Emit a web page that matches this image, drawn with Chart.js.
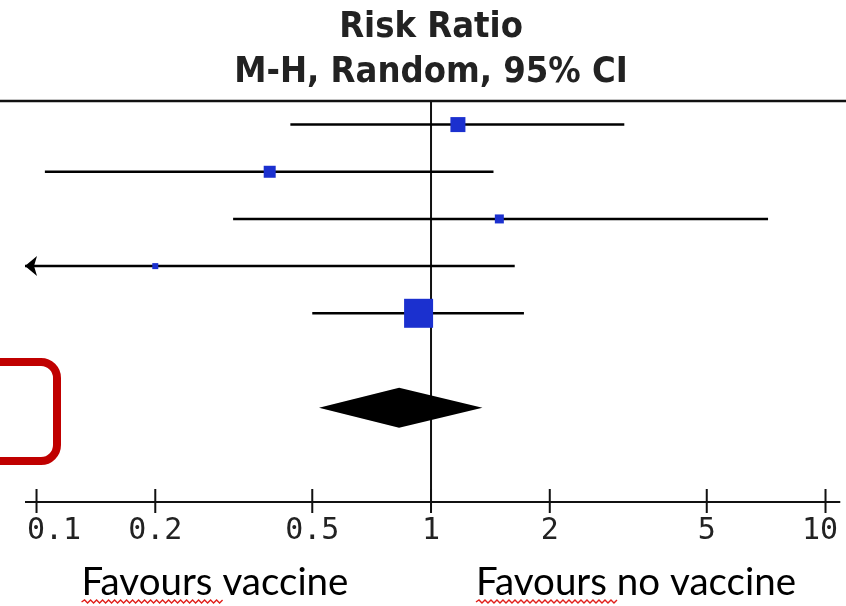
<!DOCTYPE html>
<html>
<head>
<meta charset="utf-8">
<script src="https://cdn.jsdelivr.net/npm/chart.js@4/dist/chart.umd.min.js"></script>
<style>
    html, body { margin: 0; padding: 0; background: #fff; }
    #forest { display: block; }
</style>
</head>
<body>
<canvas id="forest" width="846" height="606"></canvas>
<script>
// study rows (top to bottom) and their risk ratios with 95% CI
var studyRows = [1, 2, 3, 4, 5];
var riskRatio = [1.17, 0.39, 1.49, 0.20, 0.93];
var ciLower = [0.44, 0.105, 0.315, 0.05, 0.50];
var ciUpper = [3.09, 1.44, 7.15, 1.63, 1.72];

// pooled estimate (diamond): lower, estimate, upper
var pooledRow = 7;
var pooledRR = [0.52, 0.83, 1.35];

// axis
var tickValues = [0.1, 0.2, 0.5, 1, 2, 5, 10];
var tickLabels = ['0.1', '0.2', '0.5', '1', '2', '5', '10'];
var axisLow = 0.0935, axisHigh = 10.9;
var xMin = 0.0808, xMax = 11.27;

var titleLines = ['Risk Ratio', 'M-H, Random, 95% CI'];
var leftLabel = 'Favours vaccine';
var rightLabel = 'Favours no vaccine';

// marker side length in px (study weight)
var markerSide = [15, 12, 9, 6, 29];

var BLUE = '#1b30cf';

var datasets = [];
studyRows.forEach(function (row, i) {
    datasets.push({
        data: [{ x: Math.max(ciLower[i], axisLow), y: row }, { x: ciUpper[i], y: row }],
        showLine: true,
        borderColor: '#000',
        borderWidth: 2.5,
        pointRadius: 0,
        order: 2
    });
});
datasets.push({
    data: studyRows.map(function (row, i) { return { x: riskRatio[i], y: row }; }),
    pointStyle: 'rect',
    pointRadius: markerSide.map(function (s) { return s / Math.SQRT2; }),
    backgroundColor: BLUE,
    borderWidth: 0,
    order: 1
});

function wavy(ctx, x0, x1, y) {
    ctx.save();
    ctx.strokeStyle = '#e0201b';
    ctx.lineWidth = 1.4;
    ctx.beginPath();
    var up = true;
    ctx.moveTo(x0, y);
    for (var x = x0; x < x1; x += 3) {
        ctx.lineTo(x + 3, up ? y - 2 : y + 1);
        up = !up;
    }
    ctx.stroke();
    ctx.restore();
}

var forestDecor = {
    id: 'forestDecor',
    beforeDatasetsDraw: function (chart) {
        var ctx = chart.ctx, xs = chart.scales.x, ys = chart.scales.y;
        var topY = ys.getPixelForValue(0.5);
        var axisY = ys.getPixelForValue(9);
        var x1 = xs.getPixelForValue(1);
        ctx.save();
        ctx.strokeStyle = '#111';
        ctx.lineWidth = 2.5;
        ctx.beginPath();
        ctx.moveTo(0, topY); ctx.lineTo(chart.width, topY);
        ctx.stroke();
        ctx.lineWidth = 2;
        ctx.beginPath();
        ctx.moveTo(x1, topY); ctx.lineTo(x1, axisY);
        ctx.stroke();
        ctx.restore();
    },
    afterDatasetsDraw: function (chart) {
        var ctx = chart.ctx, xs = chart.scales.x, ys = chart.scales.y;
        var axisY = ys.getPixelForValue(9);
        ctx.save();

        // pooled diamond
        var dy = ys.getPixelForValue(pooledRow);
        ctx.fillStyle = '#000';
        ctx.beginPath();
        ctx.moveTo(xs.getPixelForValue(pooledRR[0]), dy);
        ctx.lineTo(xs.getPixelForValue(pooledRR[1]), dy - 20);
        ctx.lineTo(xs.getPixelForValue(pooledRR[2]), dy);
        ctx.lineTo(xs.getPixelForValue(pooledRR[1]), dy + 20);
        ctx.closePath();
        ctx.fill();

        // arrows for CIs beyond the axis
        studyRows.forEach(function (row, i) {
            if (ciLower[i] < axisLow) {
                var tx = xs.getPixelForValue(axisLow), ty = ys.getPixelForValue(row);
                ctx.beginPath();
                ctx.moveTo(tx, ty);
                ctx.lineTo(tx + 12, ty - 10);
                ctx.lineTo(tx + 9, ty);
                ctx.lineTo(tx + 12, ty + 10);
                ctx.closePath();
                ctx.fill();
            }
        });

        // x axis
        ctx.strokeStyle = '#111';
        ctx.lineWidth = 2;
        ctx.beginPath();
        ctx.moveTo(xs.getPixelForValue(axisLow), axisY);
        ctx.lineTo(xs.getPixelForValue(axisHigh), axisY);
        tickValues.forEach(function (v) {
            var tx = xs.getPixelForValue(v);
            ctx.moveTo(tx, axisY - 13);
            ctx.lineTo(tx, axisY + 11);
        });
        ctx.stroke();

        ctx.fillStyle = '#222';
        ctx.font = '30px "DejaVu Sans Mono"';
        ctx.textBaseline = 'middle';
        ctx.textAlign = 'left';
        tickValues.forEach(function (v, i) {
            var w = ctx.measureText(tickLabels[i]).width;
            var lx = xs.getPixelForValue(v) - w / 2;
            lx = Math.max(27, Math.min(lx, 838 - w));
            ctx.fillText(tickLabels[i], lx, axisY + 29);
        });

        // titles
        var cx = xs.getPixelForValue(1);
        ctx.fillStyle = '#222';
        ctx.textAlign = 'center';
        ctx.font = 'bold 36px "Liberation Sans Narrow", "DejaVu Sans Condensed", sans-serif';
        ctx.fillText(titleLines[0], cx, 28);
        ctx.fillText(titleLines[1], cx, 73);

        // favours labels
        ctx.fillStyle = '#000';
        ctx.textBaseline = 'alphabetic';
        ctx.font = '38.5px Lato, sans-serif';
        ctx.fillText(leftLabel, 215, 595);
        ctx.fillText(rightLabel, 636, 595);
        var lw = ctx.measureText(leftLabel).width;
        var rw = ctx.measureText(rightLabel).width;
        var fw = ctx.measureText('Favours').width + 8;
        wavy(ctx, 215 - lw / 2, 215 - lw / 2 + fw, 602);
        wavy(ctx, 636 - rw / 2, 636 - rw / 2 + fw, 602);

        // red highlight box
        ctx.strokeStyle = '#c00000';
        ctx.lineWidth = 8;
        ctx.beginPath();
        ctx.roundRect(-40, 362, 97, 99, 16);
        ctx.stroke();

        ctx.restore();
    }
};

new Chart(document.getElementById('forest'), {
    type: 'scatter',
    data: { datasets: datasets },
    options: {
        responsive: false,
        animation: false,
        devicePixelRatio: 1,
        layout: { autoPadding: false, padding: { top: 101, bottom: 104, left: 0, right: 0 } },
        scales: {
            x: { type: 'logarithmic', min: xMin, max: xMax, display: false },
            y: { type: 'linear', min: 0.5, max: 9, reverse: true, display: false }
        },
        plugins: { legend: { display: false }, tooltip: { enabled: false } }
    },
    plugins: [forestDecor]
});
</script>
</body>
</html>
